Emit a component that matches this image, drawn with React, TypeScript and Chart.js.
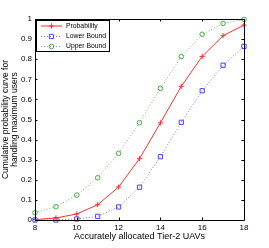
import React, { useEffect, useRef } from "react";
import { Chart, registerables } from "chart.js";

Chart.register(...registerables);

const xValues = [8, 9, 10, 11, 12, 13, 14, 15, 16, 17, 18];
const probability = [0.002, 0.01, 0.03, 0.076, 0.164, 0.305, 0.483, 0.665, 0.814, 0.917, 0.97];
const lowerBound = [0, 0, 0.005, 0.018, 0.065, 0.163, 0.315, 0.486, 0.643, 0.77, 0.864];
const upperBound = [0.036, 0.066, 0.124, 0.21, 0.332, 0.484, 0.655, 0.813, 0.924, 0.978, 0.998];

const xTicks = [8, 10, 12, 14, 16, 18];
const yTicks = [0, 0.1, 0.2, 0.3, 0.4, 0.5, 0.6, 0.7, 0.8, 0.9, 1];
const yTickLabels = ["0", "0.1", "0.2", "0.3", "0.4", "0.5", "0.6", "0.7", "0.8", "0.9", "1"];

const seriesNames = ["Probability", "Lower Bound", "Upper Bound"];
const xTitle = "Accurately allocated Tier-2 UAVs";
const yTitle = ["Cumulative probability curve for", "handling maximum users"];

const RED = "rgb(255,45,45)";
const BLUE = "rgb(70,70,255)";
const GREEN = "rgb(70,175,70)";
const BLUE_LINE = "rgb(120,120,255)";
const GREEN_LINE = "rgb(110,190,110)";
const FONT = "'Liberation Sans', Arial, Helvetica, sans-serif";

const framePlugin = {
  id: "frameAndLegend",
  afterDatasetsDraw(chart: any) {
    const { ctx, chartArea } = chart;
    const xs = chart.scales.x;
    const ys = chart.scales.y;
    const { left, right, top, bottom } = chartArea;
    ctx.save();
    ctx.strokeStyle = "#000";
    ctx.lineWidth = 1;
    ctx.beginPath();
    ctx.rect(Math.round(left) + 0.5, Math.round(top) + 0.5, Math.round(right - left), Math.round(bottom - top));
    ctx.stroke();
    const tl = 2.5;
    ctx.beginPath();
    xTicks.forEach((v) => {
      const px = Math.round(xs.getPixelForValue(v)) + 0.5;
      ctx.moveTo(px, bottom);
      ctx.lineTo(px, bottom - tl);
      ctx.moveTo(px, top);
      ctx.lineTo(px, top + tl);
    });
    yTicks.forEach((v) => {
      const py = Math.round(ys.getPixelForValue(v)) + 0.5;
      ctx.moveTo(left, py);
      ctx.lineTo(left + tl, py);
      ctx.moveTo(right, py);
      ctx.lineTo(right - tl, py);
    });
    ctx.stroke();

    // legend
    const bx = 36.5, by = 20.5, bw = 73, bh = 31;
    ctx.fillStyle = "#fff";
    ctx.fillRect(bx, by, bw, bh);
    ctx.strokeStyle = "#000";
    ctx.strokeRect(bx, by, bw, bh);
    const rowsY = [26, 36.5, 46.5];
    const ds = chart.data.datasets;
    ds.forEach((d: any, i: number) => {
      const y = rowsY[i];
      ctx.strokeStyle = d.borderColor;
      ctx.lineWidth = 1;
      ctx.setLineDash(d.borderDash || []);
      ctx.beginPath();
      ctx.moveTo(41, y);
      ctx.lineTo(62, y);
      ctx.stroke();
      ctx.setLineDash([]);
      ctx.strokeStyle = d.pointBorderColor;
      ctx.beginPath();
      const cx = 51.5;
      const r = d.pointRadius;
      if (d.pointStyle === "cross") {
        ctx.moveTo(cx - r, y);
        ctx.lineTo(cx + r, y);
        ctx.moveTo(cx, y - r);
        ctx.lineTo(cx, y + r);
      } else if (d.pointStyle === "rect") {
        const s = Math.SQRT1_2 * r;
        ctx.rect(cx - s, y - s, 2 * s, 2 * s);
      } else {
        ctx.arc(cx, y, r, 0, Math.PI * 2);
      }
      ctx.stroke();
      ctx.fillStyle = "#000";
      ctx.font = `6.8px ${FONT}`;
      ctx.textBaseline = "middle";
      ctx.textAlign = "left";
      ctx.fillText(seriesNames[i], 66, y);
    });
    ctx.restore();
  },
};

export default function App() {
  const ref = useRef<HTMLCanvasElement>(null);
  useEffect(() => {
    const mk = (arr: number[]) => xValues.map((x, i) => ({ x, y: arr[i] }));
    const chart = new Chart(ref.current!, {
      type: "line",
      data: {
        datasets: [
          {
            label: seriesNames[0],
            data: mk(probability),
            borderColor: RED,
            backgroundColor: "transparent",
            borderWidth: 1,
            pointStyle: "cross",
            pointRadius: 2.6,
            pointBorderWidth: 1,
            pointBorderColor: RED,
            tension: 0,
            clip: false,
          },
          {
            label: seriesNames[1],
            data: mk(lowerBound),
            borderColor: BLUE_LINE,
            backgroundColor: "transparent",
            borderWidth: 1,
            borderDash: [1, 2],
            pointStyle: "rect",
            pointRadius: 3.0,
            pointBorderWidth: 1,
            pointBorderColor: BLUE,
            pointBackgroundColor: "transparent",
            tension: 0,
            clip: false,
          },
          {
            label: seriesNames[2],
            data: mk(upperBound),
            borderColor: GREEN_LINE,
            backgroundColor: "transparent",
            borderWidth: 1,
            borderDash: [1, 2],
            pointStyle: "circle",
            pointRadius: 2.3,
            pointBorderWidth: 1,
            pointBorderColor: GREEN,
            pointBackgroundColor: "transparent",
            tension: 0,
            clip: false,
          },
        ],
      },
      options: {
        animation: false,
        responsive: false,
        devicePixelRatio: 1,
        layout: { padding: { top: 19, right: 25, left: 0, bottom: 0 } },
        plugins: { legend: { display: false }, tooltip: { enabled: false } },
        scales: {
          x: {
            type: "linear",
            min: 8,
            max: 18,
            grid: { display: false, drawTicks: false },
            border: { display: false },
            afterBuildTicks: (s: any) => {
              s.ticks = xTicks.map((v) => ({ value: v }));
            },
            afterFit: (s: any) => {
              s.height = 28;
            },
            ticks: {
              autoSkip: false,
              maxRotation: 0,
              padding: 3,
              color: "#000",
              font: { family: FONT, size: 8 },
            },
            title: {
              display: true,
              text: xTitle,
              color: "#000",
              font: { family: FONT, size: 9, lineHeight: 1.2 },
              padding: { top: 0, bottom: 6.5 },
            },
          },
          y: {
            min: 0,
            max: 1,
            grid: { display: false, drawTicks: false },
            border: { display: false },
            afterBuildTicks: (s: any) => {
              s.ticks = yTicks.map((v) => ({ value: v }));
            },
            afterFit: (s: any) => {
              s.width = 35;
            },
            ticks: {
              autoSkip: false,
              padding: 3,
              color: "#000",
              font: { family: FONT, size: 8 },
              callback: (v: any) => {
                const i = yTicks.findIndex((t) => Math.abs(t - Number(v)) < 1e-9);
                return i >= 0 ? yTickLabels[i] : "";
              },
            },
            title: {
              display: true,
              text: yTitle,
              color: "#000",
              font: { family: FONT, size: 8.5, lineHeight: 1.05 },
              padding: { top: 1, bottom: 0 },
            },
          },
        },
      },
      plugins: [framePlugin],
    } as any);
    return () => chart.destroy();
  }, []);
  return (
    <div style={{ position: "absolute", left: 0, top: 0, width: 269, height: 248, background: "#fff" }}>
      <canvas ref={ref} width={269} height={248} style={{ width: 269, height: 248, display: "block" }} />
    </div>
  );
}
